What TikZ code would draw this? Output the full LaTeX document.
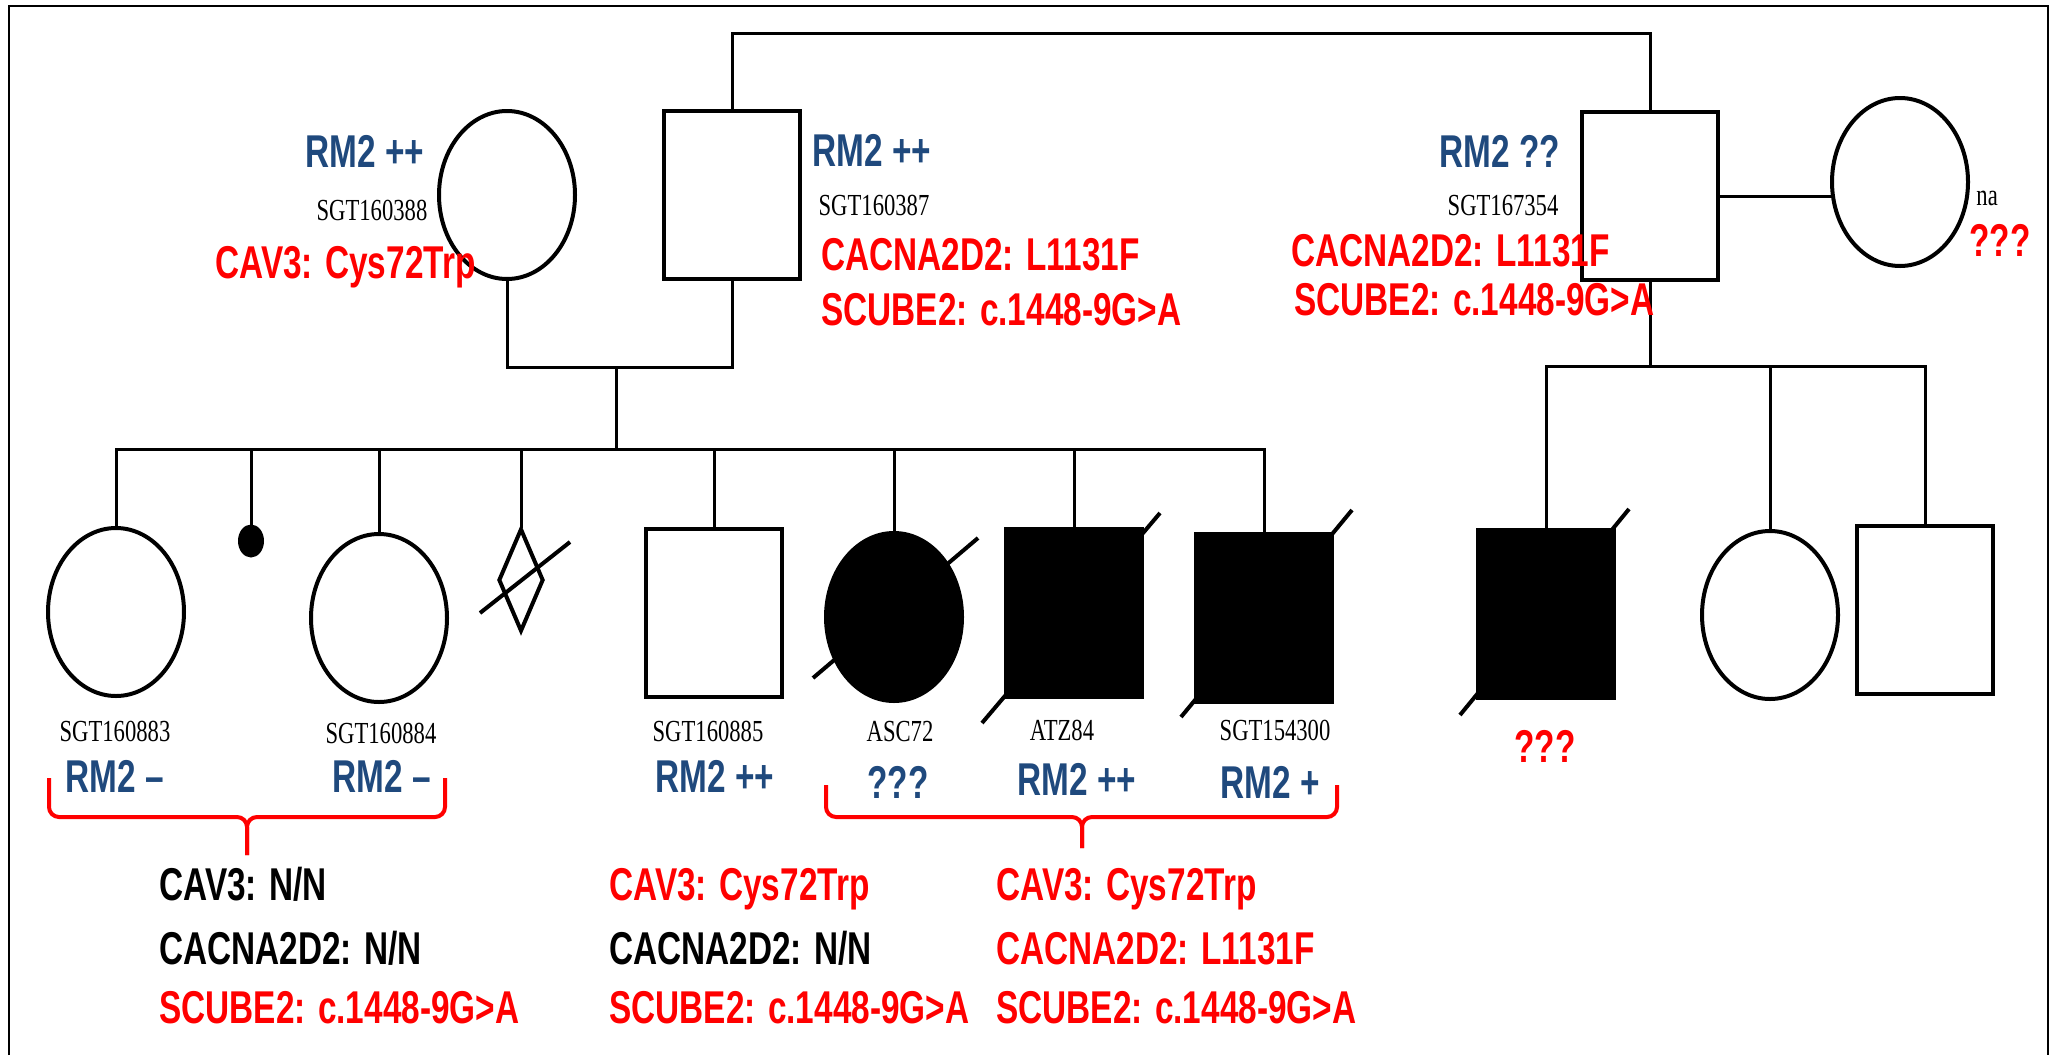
\documentclass[tikz,border=0pt]{standalone}
\usepackage{fontspec}
\newfontfamily\labfont[FakeStretch=0.725]{Liberation Sans}
\newfontfamily\idfont[FakeStretch=0.74]{Liberation Serif}
\definecolor{rmblue}{HTML}{1F497D}
\definecolor{mutred}{HTML}{FF0000}
\usetikzlibrary{shapes.geometric,positioning}

\begin{document}
\begin{tikzpicture}[x=0.5pt,y=-0.5pt,
  conn/.style={line width=1.5pt,line cap=rect},
  male/.style={draw,line width=2pt,minimum width=68pt,minimum height=84pt,inner sep=0pt},
  female/.style={male,ellipse},
  aff/.style={fill=black},
  loss/.style={fill=black,ellipse,inner sep=0pt,minimum width=13pt,minimum height=16.5pt},
  unk/.style={draw,line width=2pt,diamond,inner sep=0pt,minimum width=22.5pt,minimum height=51.5pt},
  dead/.style={line width=2pt},
  lab/.style={font=\labfont\bfseries\fontsize{23}{25}\selectfont,inner sep=0pt},
  rm/.style={lab,text=rmblue,anchor=base},
  mut/.style={lab,text=mutred,anchor=base west},
  wt/.style={lab,text=black,anchor=base west},
  sgt/.style={font=\idfont\fontsize{15.3}{17}\selectfont,inner sep=0pt,anchor=base},
  grp/.style={mutred,line width=2pt,rounded corners=5pt}]
  \useasboundingbox (0,0) rectangle (2060,1055);
  \draw[line width=0.9pt] (9,1055) |- (2048,6) -- (2048,1055);

  \node[female] (m1) at (507,195) {};
  \node[male] (f1) at (732,195) {};
  \node[male] (f2) at (1650,196) {};
  \node[female] (m2) at (1900,182) {};

  \node[female] (c1) at (116,612) {};
  \node[loss] (c2) at (251,541) {};
  \node[female] (c3) at (379,618) {};
  \node[unk] (c4) at (521,580) {};
  \node[male] (c5) at (714,613) {};
  \node[female,aff] (c6) at (894,617) {};
  \node[male,aff] (c7) at (1074,613) {};
  \node[male,aff] (c8) at (1264,618) {};
  \node[male,aff] (d1) at (1546,614) {};
  \node[female] (d2) at (1770,615) {};
  \node[male] (d3) at (1925,610) {};

  \coordinate (top) at (0,33);
  \coordinate (mar) at (616,367);
  \coordinate (sib1) at (0,449);
  \coordinate (sib2) at (0,366);

  \draw[conn] (f1.north) -- (f1.north |- top) -| (f2.north);
  \draw[conn] (m1.south) |- (mar) -| (f1.south);
  \draw[conn] (mar) -- (mar |- sib1);
  \draw[conn] (c1.north |- sib1) -- (c8.north |- sib1);
  \foreach \k in {c1,c2,c3,c4,c5,c6,c7,c8}
    \draw[conn] (\k.north) -- (\k.north |- sib1);
  \draw[conn] (f2.east) -- (m2.west |- f2.east);
  \draw[conn] (f2.south) -- (f2.south |- sib2);
  \draw[conn] (d1.north |- sib2) -- (d3.north |- sib2);
  \foreach \k in {d1,d2,d3}
    \draw[conn] (\k.north) -- (\k.north |- sib2);

  \draw[dead] ([shift={(-41,33)}]c4.center) -- ([shift={(49,-38)}]c4.center);
  \draw[dead] ([shift={(-81,61)}]c6.center) -- ([shift={(84,-79)}]c6.center);
  \draw[dead] ([shift={(-92,110)}]c7.center) -- ([shift={(86,-100)}]c7.center);
  \draw[dead] ([shift={(-83,99)}]c8.center) -- ([shift={(88,-108)}]c8.center);
  \draw[dead] ([shift={(-86,101)}]d1.center) -- ([shift={(83,-105)}]d1.center);

  \node[rm] (rm1) at (365,167) {RM2 ++};
  \node[sgt] (id1) at (372,220) {SGT160388};
  \node[mut] (v1) at (215,278) {CAV3: Cys72Trp};
  \node[rm] (rm2) at (872,166) {RM2 ++};
  \node[sgt] (id2) at (874,215) {SGT160387};
  \node[mut] (v2a) at (821,270) {CACNA2D2: L1131F};
  \node[mut] (v2b) at (821,325) {SCUBE2: c.1448-9G>A};
  \node[rm] (rm3) at (1500,167) {RM2 ??};
  \node[sgt] (id3) at (1503,215) {SGT167354};
  \node[mut] (v3a) at (1291,266) {CACNA2D2: L1131F};
  \node[mut] (v3b) at (1294,315) {SCUBE2: c.1448-9G>A};
  \node[sgt,anchor=base west] (id4) at (1976,205) {na};
  \node[lab,text=mutred,anchor=base] (q4) at (2000,256) {???};

  \node[sgt] (idc1) at (115,741) {SGT160883};
  \node[sgt] (idc3) at (381,743) {SGT160884};
  \node[sgt] (idc5) at (708,741) {SGT160885};
  \node[sgt] (idc6) at (900,741) {ASC72};
  \node[sgt] (idc7) at (1062,740) {ATZ84};
  \node[sgt] (idc8) at (1275,740) {SGT154300};

  \node[rm] (rmc1) at (115,792) {RM2 –};
  \node[rm] (rmc3) at (382,792) {RM2 –};
  \node[rm] (rmc5) at (715,792) {RM2 ++};
  \node[rm] (rmc6) at (898,798) {???};
  \node[rm] (rmc7) at (1077,795) {RM2 ++};
  \node[rm] (rmc8) at (1270,798) {RM2 +};
  \node[lab,text=mutred,anchor=base] (qd1) at (1545,762) {???};

  \coordinate (g1) at (247,817);
  \draw[grp] (49,778) |- (g1) -- ++(0,38);
  \draw[grp] (445,778) |- (g1) -- ++(0,38);
  \coordinate (g2) at (1082,817);
  \draw[grp] (826,785) |- (g2) -- ++(0,31);
  \draw[grp] (1337,785) |- (g2) -- ++(0,31);

  \node[wt] (ga1) at (159,900) {CAV3: N/N};
  \node[wt] (ga2) at (159,964) {CACNA2D2: N/N};
  \node[mut] (ga3) at (159,1023) {SCUBE2: c.1448-9G>A};
  \node[mut] (gb1) at (609,900) {CAV3: Cys72Trp};
  \node[wt] (gb2) at (609,964) {CACNA2D2: N/N};
  \node[mut] (gb3) at (609,1023) {SCUBE2: c.1448-9G>A};
  \node[mut] (gc1) at (996,900) {CAV3: Cys72Trp};
  \node[mut] (gc2) at (996,964) {CACNA2D2: L1131F};
  \node[mut] (gc3) at (996,1023) {SCUBE2: c.1448-9G>A};
\end{tikzpicture}
\end{document}
